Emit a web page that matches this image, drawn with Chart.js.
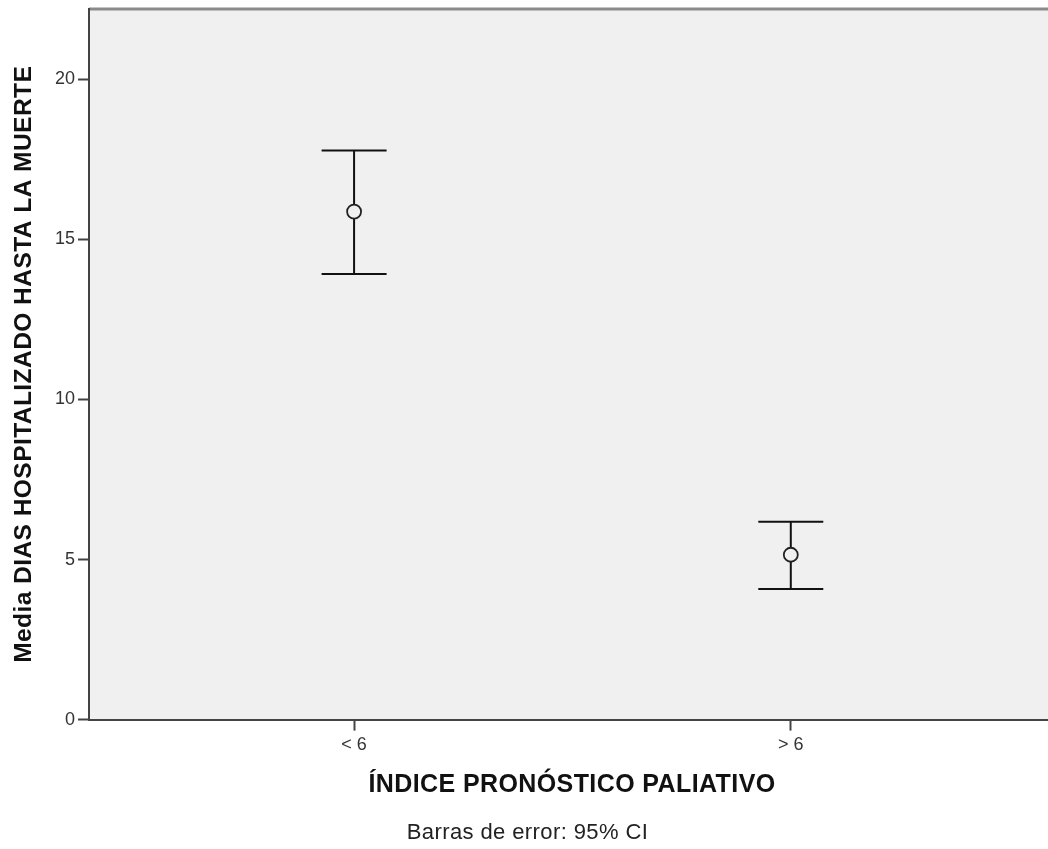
<!DOCTYPE html>
<html>
<head>
<meta charset="utf-8">
<script src="https://cdn.jsdelivr.net/npm/chart.js@4/dist/chart.umd.min.js"></script>
<style>
  html, body { margin: 0; padding: 0; background: #fff; overflow: hidden; }
  #wrap { width: 1048px; height: 849px; overflow: hidden; }
  canvas { display: block; }
</style>
</head>
<body>
<div id="wrap"><canvas id="chart" width="1062" height="849"></canvas></div>
<script>
// values
const categories = ['< 6', '> 6'];
const means = [15.87, 5.15];
const ciLower = [13.92, 4.08];
const ciUpper = [17.78, 6.18];
const yTickValues = [0, 5, 10, 15, 20];
const yMax = 22.2;
const xTitle = 'ÍNDICE PRONÓSTICO PALIATIVO';
const yTitle = 'Media DIAS HOSPITALIZADO HASTA LA MUERTE';
const footnote = 'Barras de error: 95% CI';

const family = '"Liberation Sans", Arial, sans-serif';
const plotBg = '#f0f0f0';
const axisColor = '#444444';
const capHalf = 32.5;

// background, top frame line and the error bars
const plotFrame = {
  id: 'plotFrame',
  beforeDraw(chart) {
    const { ctx, chartArea: a } = chart;
    ctx.save();
    ctx.fillStyle = plotBg;
    ctx.fillRect(a.left, a.top, a.right - a.left, a.bottom - a.top);
    ctx.strokeStyle = '#8a8a8a';
    ctx.lineWidth = 3;
    ctx.beginPath();
    ctx.moveTo(a.left, a.top);
    ctx.lineTo(a.right, a.top);
    ctx.stroke();
    ctx.restore();
    // the titles in the picture are a little wider than plain Arial
    ctx.letterSpacing = '0.4px';
  },
  beforeDatasetsDraw(chart) {
    const { ctx, scales } = chart;
    ctx.letterSpacing = '0px';
    ctx.save();
    ctx.strokeStyle = '#111';
    ctx.lineWidth = 2;
    means.forEach((m, i) => {
      const x = scales.x.getPixelForValue(i + 1);
      const yl = scales.y.getPixelForValue(ciLower[i]);
      const yu = scales.y.getPixelForValue(ciUpper[i]);
      ctx.beginPath();
      ctx.moveTo(x, yl); ctx.lineTo(x, yu);
      ctx.moveTo(x - capHalf, yu); ctx.lineTo(x + capHalf, yu);
      ctx.moveTo(x - capHalf, yl); ctx.lineTo(x + capHalf, yl);
      ctx.stroke();
    });
    ctx.restore();
  }
};

Chart.defaults.font.family = family;

new Chart(document.getElementById('chart'), {
  type: 'scatter',
  data: {
    datasets: [{
      data: means.map((m, i) => ({ x: i + 1, y: m })),
      pointRadius: 7,
      pointHoverRadius: 7,
      pointBorderWidth: 1.8,
      pointBorderColor: '#222',
      pointBackgroundColor: plotBg,
      showLine: false
    }]
  },
  options: {
    responsive: false,
    animation: false,
    devicePixelRatio: 1,
    layout: { autoPadding: false, padding: { top: 9, left: 0, right: 7, bottom: 0 } },
    plugins: {
      legend: { display: false },
      tooltip: { enabled: false },
      title: {
        display: true,
        position: 'bottom',
        text: footnote,
        color: '#222',
        font: { size: 22, weight: 'normal' },
        padding: { top: 0, bottom: 3 }
      }
    },
    scales: {
      x: {
        type: 'linear',
        min: 0.393,
        max: 2.605,
        afterBuildTicks: s => { s.ticks = categories.map((c, i) => ({ value: i + 1 })); },
        afterFit: s => { s.height = 100; s.paddingLeft = 0; s.paddingRight = 0; },
        grid: { drawOnChartArea: false, tickLength: 11, tickColor: axisColor, tickWidth: 2 },
        border: { color: axisColor, width: 2 },
        ticks: {
          z: 1,
          padding: 4,
          color: '#333',
          font: { size: 18 },
          maxRotation: 0,
          autoSkip: false,
          callback: (v, i) => categories[i]
        },
        title: {
          display: true,
          text: xTitle,
          color: '#111',
          font: { size: 25, weight: 'bold' },
          padding: { top: 0, bottom: 19 }
        }
      },
      y: {
        min: 0,
        max: yMax,
        afterBuildTicks: s => { s.ticks = yTickValues.map(v => ({ value: v })); },
        afterFit: s => { s.width = 89; s.paddingTop = 0; s.paddingBottom = 0; },
        grid: { drawOnChartArea: false, tickLength: 11, tickColor: axisColor, tickWidth: 2 },
        border: { color: axisColor, width: 2 },
        ticks: { z: 1, padding: 3, color: '#333', font: { size: 18 } },
        title: {
          display: true,
          text: yTitle,
          color: '#111',
          font: { size: 24.6, weight: 'bold' },
          padding: { top: 9.2, bottom: 0 }
        }
      }
    }
  },
  plugins: [plotFrame]
});
</script>
</body>
</html>
